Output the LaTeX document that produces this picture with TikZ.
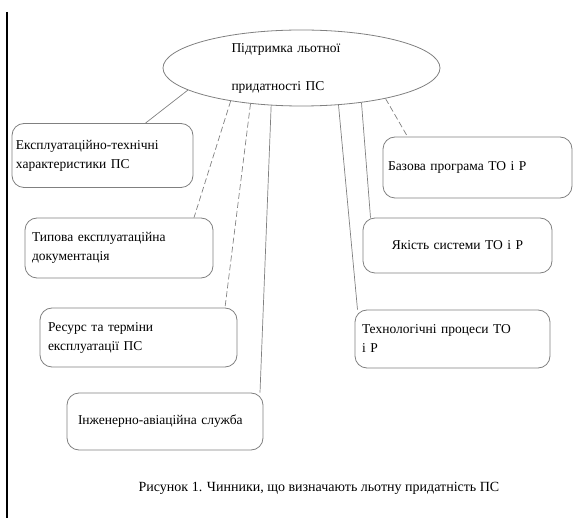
\documentclass[tikz,border=0pt]{standalone}
\usepackage{fontspec}
\setmainfont{Liberation Serif}
\usetikzlibrary{shapes.geometric,calc}
\tikzset{
  boxnode/.style={draw=black!50, line width=0.8pt, rounded corners=12pt, rectangle,
    inner xsep=6pt, inner ysep=2pt, align=left, anchor=center,
    font=\fontsize{13.5}{19}\selectfont},
  link/.style={draw=black!50, line width=0.7pt},
  dlink/.style={link, dash pattern=on 6pt off 3pt},
}
\begin{document}
\begin{tikzpicture}[x=1pt,y=-1pt]
\useasboundingbox (0,0) rectangle (573,518);
\draw[line width=1.6pt] (7,12) -- (7,518);
\node[draw=black!50, line width=0.8pt, ellipse, minimum width=277pt, minimum height=76pt,
  inner sep=0pt, text width=140pt, align=left,
  font=\fontsize{13.5}{28}\selectfont] (e) at (301.5,68) {\vspace*{10pt}Підтримка льотної\\придатності ПС};
\node[boxnode, minimum width=181pt, minimum height=64pt, text width=173pt, inner xsep=4pt] (b1) at (102.5,155.5) {Експлуатаційно-технічні\\характеристики ПС};
\node[boxnode, minimum width=188pt, minimum height=60pt, text width=174pt, inner xsep=7pt] (b2) at (119,248) {Типова експлуатаційна\\документація};
\node[boxnode, minimum width=197pt, minimum height=59pt, text width=181pt, inner xsep=8pt] (b3) at (138.5,337.5) {Ресурс та терміни\\експлуатації ПС};
\node[boxnode, minimum width=196pt, minimum height=57pt, text width=174pt, inner xsep=11pt] (b4) at (165,421.5) {Інженерно-авіаційна служба};
\node[boxnode, minimum width=189pt, minimum height=61pt, text width=179pt, inner xsep=5pt] (b5) at (477.5,167.5) {Базова програма ТО і Р};
\node[boxnode, minimum width=189pt, minimum height=55pt, text width=177pt, align=center] (b6) at (457.5,245.5) {Якість системи ТО і Р};
\node[boxnode, minimum width=195pt, minimum height=58pt, text width=181pt, inner xsep=7pt] (b7) at (452.5,339) {Технологічні процеси ТО\\і Р};
\draw[link]  (e.191) -- ([xshift=43pt]b1.north);
\draw[dlink] (e.205) -- ([xshift=75pt]b2.north);
\draw[dlink] (e.215) -- ([xshift=86.5pt]b3.north);
\draw[link]  (e.231) -- ([xshift=95pt]b4.north);
\draw[dlink] (e.340) -- ([xshift=-70pt]b5.north);
\draw[link]  (e.330) -- ([xshift=-87pt]b6.north);
\draw[link]  (e.315) -- ([xshift=-95pt]b7.north);
\node[font=\fontsize{14}{16}\selectfont] (cap) at (319,488) {Рисунок 1. Чинники, що визначають льотну придатність ПС};
\end{tikzpicture}
\end{document}
